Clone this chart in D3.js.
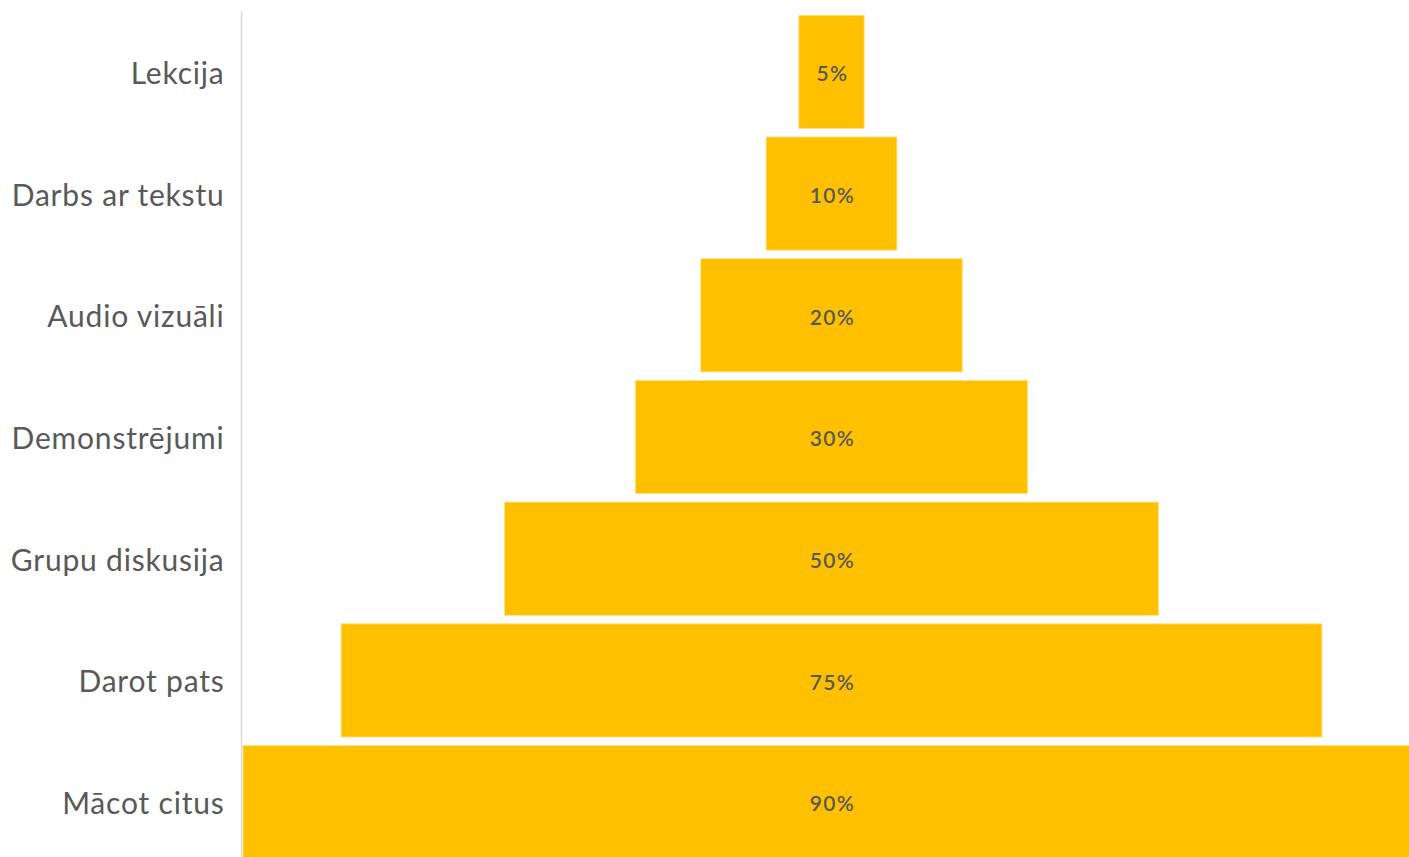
<!DOCTYPE html>
<html>
<head>
<meta charset="utf-8">
<script src="https://cdn.jsdelivr.net/npm/d3@7"></script>
<style>
  html, body { margin: 0; padding: 0; background: #fff; overflow: hidden; }
  svg { display: block; font-family: Lato, "Open Sans", sans-serif; }
</style>
</head>
<body>
<svg id="chart"></svg>
<script>
  // funnel: each bar centred against the largest value
  var categories = ['Lekcija', 'Darbs ar tekstu', 'Audio vizuāli', 'Demonstrējumi', 'Grupu diskusija', 'Darot pats', 'Mācot citus'];
  var values = [5, 10, 20, 30, 50, 75, 90];
  var valueLabels = ['5%', '10%', '20%', '30%', '50%', '75%', '90%'];

  var width = 1409, height = 857;
  var svg = d3.select('#chart').attr('width', width).attr('height', height);

  var maxVal = d3.max(values);
  var x = d3.scaleLinear().domain([0, maxVal]).range([243, 1420]);
  var y = d3.scaleBand().domain(categories).range([11, 863]).paddingInner(0.07).paddingOuter(0.035);

  var rows = categories.map(function (c, i) {
    return { cat: c, value: values[i], label: valueLabels[i], offset: (maxVal - values[i]) / 2 };
  });

  svg.selectAll('rect.bar')
    .data(rows)
    .enter()
    .append('rect')
    .attr('class', 'bar')
    .attr('x', function (d) { return x(d.offset); })
    .attr('y', function (d) { return y(d.cat); })
    .attr('width', function (d) { return x(d.offset + d.value) - x(d.offset); })
    .attr('height', y.bandwidth())
    .attr('fill', '#ffc000')
    .attr('stroke', '#ffe08a')
    .attr('stroke-width', 0.8);

  svg.selectAll('text.val')
    .data(rows)
    .enter()
    .append('text')
    .attr('class', 'val')
    .attr('x', function (d) { return x(d.offset + d.value / 2) + 1; })
    .attr('y', function (d) { return y(d.cat) + y.bandwidth() / 2 + 2; })
    .attr('dy', '0.35em')
    .attr('text-anchor', 'middle')
    .attr('font-size', 21)
    .attr('letter-spacing', 1.3)
    .attr('font-weight', 600)
    .attr('fill', '#595959')
    .text(function (d) { return d.label; });

  // category axis on the left
  var yAxis = svg.append('g')
    .attr('transform', 'translate(241.5,0)')
    .call(d3.axisLeft(y).tickSize(0).tickPadding(17));
  yAxis.select('.domain').attr('stroke', '#d9d9d9').attr('stroke-width', 1.5)
    .attr('d', 'M0,11V' + height);
  yAxis.selectAll('text')
    .attr('font-family', 'Lato, "Open Sans", sans-serif')
    .attr('font-size', 30)
    .attr('letter-spacing', 0.8)
    .attr('dy', '0.4em')
    .attr('fill', '#595959');
</script>
</body>
</html>
